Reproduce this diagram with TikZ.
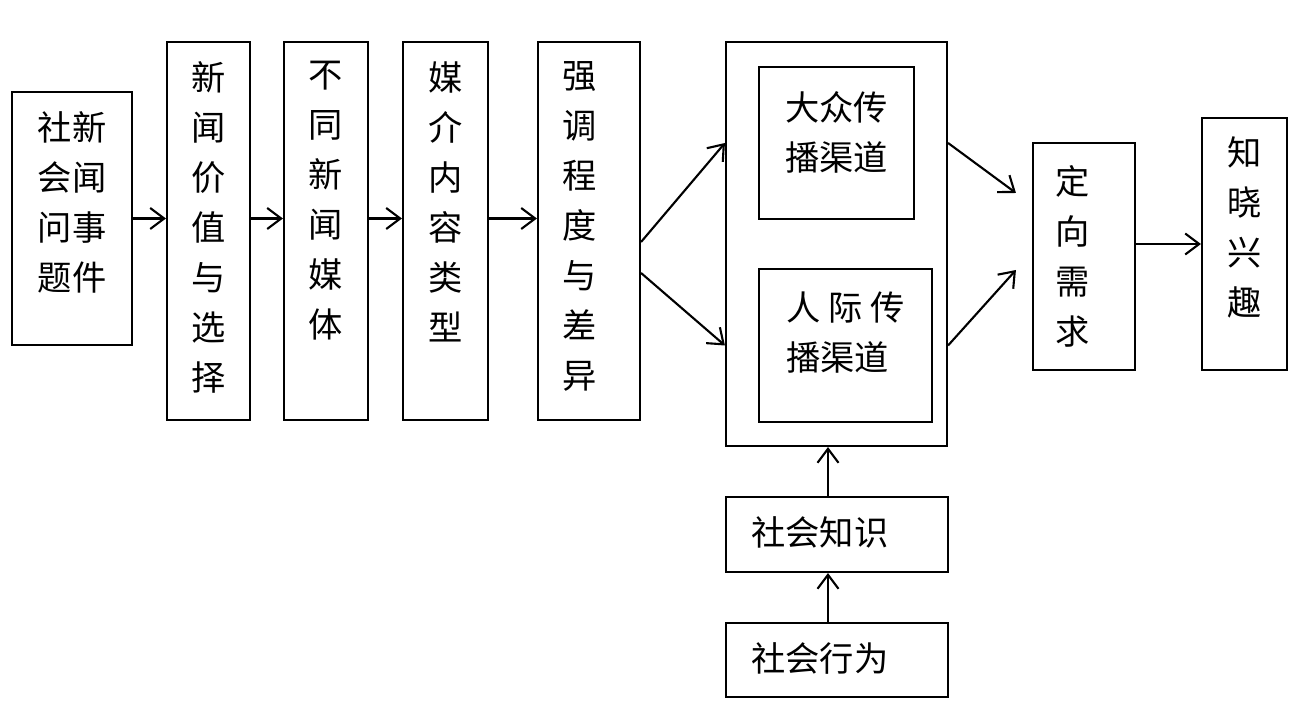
\documentclass[tikz,border=0pt]{standalone}
\usepackage{fontspec}
\setmainfont{Noto Sans CJK SC}
\usetikzlibrary{positioning,arrows.meta}
\begin{document}
\begin{tikzpicture}[
    box/.style={draw, line width=1.2pt, inner sep=0pt},
    txt/.style={inner sep=0pt, align=center, font=\fontsize{19.5}{28.45}\selectfont},
    arr/.style={line width=1.2pt, -{Straight Barb[length=2.8mm,width=4.2mm]}}]
    \useasboundingbox (0,0) rectangle (25.98,14.18);
    % boxes
    \node[box, minimum width=2.40cm, minimum height=5.06cm] (event) at (1.44,9.81) {};
    \node[box, minimum width=1.66cm, minimum height=7.56cm] (value) at (4.17,9.56) {};
    \node[box, minimum width=1.68cm, minimum height=7.56cm] (media) at (6.52,9.56) {};
    \node[box, minimum width=1.70cm, minimum height=7.56cm] (content) at (8.91,9.56) {};
    \node[box, minimum width=2.04cm, minimum height=7.56cm] (stress) at (11.78,9.56) {};
    \node[box, minimum width=4.42cm, minimum height=8.08cm] (channel) at (16.73,9.30) {};
    \node[box, minimum width=3.10cm, minimum height=3.04cm] (mass) at (16.73,11.32) {};
    \node[box, minimum width=3.46cm, minimum height=3.06cm] (inter) at (16.91,7.27) {};
    \node[box, minimum width=2.04cm, minimum height=4.54cm] (need) at (21.68,9.05) {};
    \node[box, minimum width=1.70cm, minimum height=5.04cm] (aware) at (24.89,9.30) {};
    \node[box, minimum width=4.44cm, minimum height=1.50cm] (know) at (16.74,3.49) {};
    \node[box, minimum width=4.44cm, minimum height=1.48cm] (behave) at (16.74,0.98) {};
    % texts
    \node[txt, below=0.40cm of event.north] (tevent) {社新\\会闻\\问事\\题件};
    \node[txt, below=0.40cm of value.north] (tvalue) {新\\闻\\价\\值\\与\\选\\择};
    \node[txt, below=0.40cm of media.north] (tmedia) {不\\同\\新\\闻\\媒\\体};
    \node[txt, below=0.40cm of content.north] (tcontent) {媒\\介\\内\\容\\类\\型};
    \node[txt, below=0.40cm of stress.north, xshift=-0.18cm] (tstress) {强\\调\\程\\度\\与\\差\\异};
    \node[txt, align=left, below=0.50cm of mass.north] (tmass) {大众传\\播渠道};
    \node[txt, align=left, below=0.48cm of inter.north] (tinter) {人 际 传\\播渠道};
    \node[txt, below=0.47cm of need.north, xshift=-0.22cm] (tneed) {定\\向\\需\\求};
    \node[txt, below=0.38cm of aware.north] (taware) {知\\晓\\兴\\趣};
    \node[txt, below right=0.40cm and 0.52cm of know.north west] (tknow) {社会知识};
    \node[txt, below right=0.40cm and 0.52cm of behave.north west] (tbehave) {社会行为};
    % arrows
    \draw[arr] (event.east) -- (event.east -| value.west);
    \draw[arr] (value.east |- event.east) -- (media.west |- event.east);
    \draw[arr] (media.east |- event.east) -- (content.west |- event.east);
    \draw[arr] (content.east |- event.east) -- (stress.west |- event.east);
    \draw[arr] ([yshift=-0.22cm]stress.east) -- (channel.west |- mass.west);
    \draw[arr] ([yshift=-0.84cm]stress.east) -- (channel.west |- inter.west);
    \draw[arr] (channel.east |- mass.east) -- ([shift={(-0.32,1.27)}]need.west);
    \draw[arr] (channel.east |- inter.west) -- ([shift={(-0.32,-0.27)}]need.west);
    \draw[arr] (need.east |- aware.west) -- (aware.west);
    \draw[arr] ([xshift=-0.18cm]know.north) -- ([xshift=-0.18cm]know.north |- channel.south);
    \draw[arr] ([xshift=-0.18cm]behave.north) -- ([xshift=-0.18cm]know.south);
\end{tikzpicture}
\end{document}
